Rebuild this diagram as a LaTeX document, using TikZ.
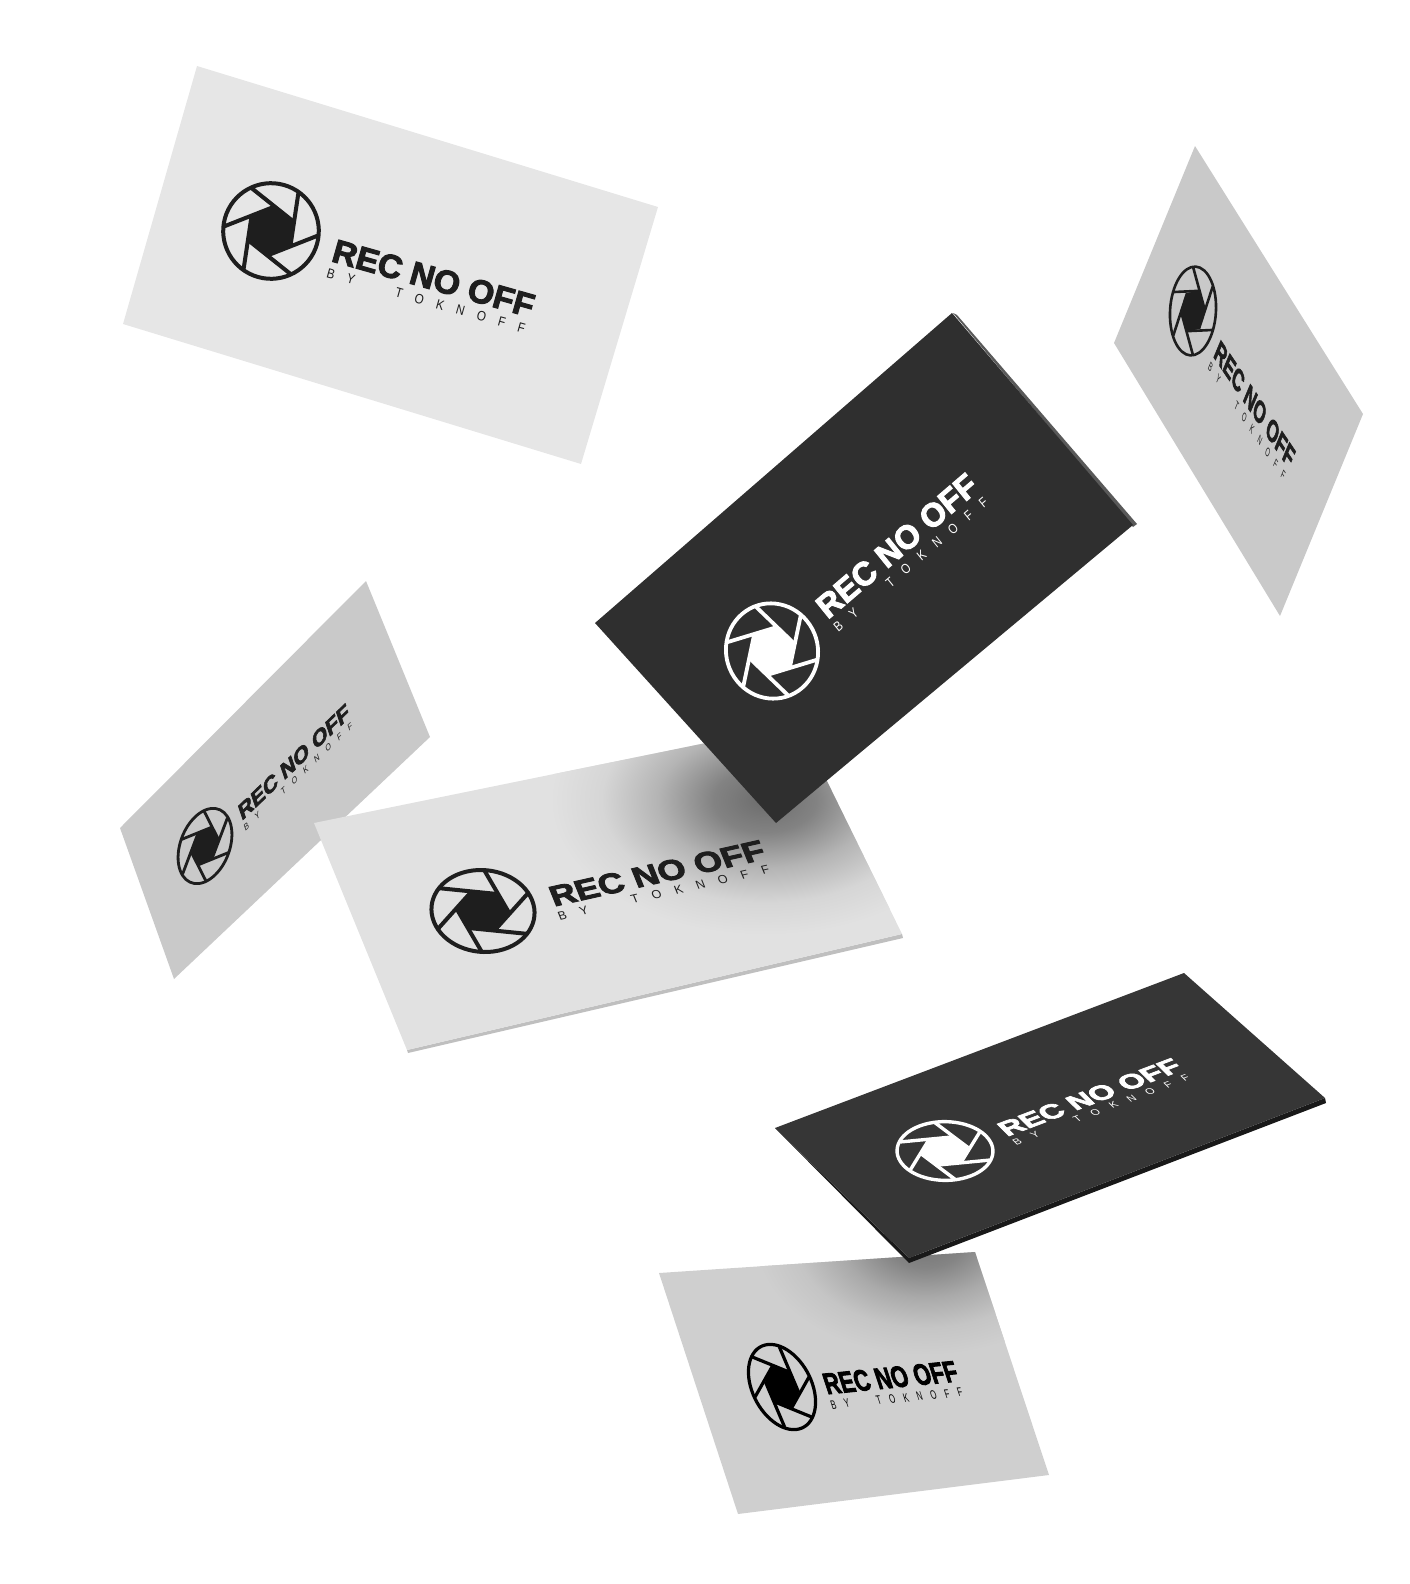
\documentclass[tikz,border=0pt]{standalone}
\usepackage{fontspec}
\usepackage{xcolor}
\newfontfamily\recfont[UprightFont=* Bold,FakeBold=3]{Liberation Sans}
\newfontfamily\byfont[LetterSpace=110]{Liberation Sans}
\definecolor{inkdark}{HTML}{1E1E1E}
\definecolor{cardpale}{HTML}{E6E6E6}
\definecolor{cardmid}{HTML}{E1E1E1}
\definecolor{cardgrey}{HTML}{C9C9C9}
\definecolor{cardlow}{HTML}{CFCFCF}
\definecolor{cardblack}{HTML}{2F2F2F}
\definecolor{cardcoal}{HTML}{363636}
\pgfdeclareradialshading{softmid}{\pgfpointorigin}{color(0bp)=(black!52!cardmid); color(6bp)=(black!42!cardmid); color(12.5bp)=(black!20!cardmid); color(19bp)=(black!5!cardmid); color(25bp)=(cardmid); color(50bp)=(cardmid)}
\pgfdeclareradialshading{softlow}{\pgfpointorigin}{color(0bp)=(black!45!cardlow); color(6bp)=(black!36!cardlow); color(12.5bp)=(black!18!cardlow); color(19bp)=(black!5!cardlow); color(25bp)=(cardlow); color(50bp)=(cardlow)}
\tikzset{
	rectext/.style={anchor=west,inner sep=0pt,transform shape},
}
% name, centre x, centre y, unit along text (x,y), unit across text (x,y), ink, line width
\newcommand{\recmark}[9]{
	\pgfmathsetmacro{\ma}{#4/56.905}
	\pgfmathsetmacro{\mb}{-#5/56.905}
	\pgfmathsetmacro{\mc}{#6/56.905}
	\pgfmathsetmacro{\md}{-#7/56.905}
	\begin{scope}[shift={(#2,#3)},cm={\ma,\mb,\mc,\md,(0,0)},x=1cm,y=1cm]
		\draw[#8,line width=#9] (0,0) circle (1);
		\fill[#8] (41:0.5) -- (101:0.5) -- (161:0.5) -- (221:0.5) -- (281:0.5) -- (341:0.5) -- cycle;
		\foreach \a in {0,60,...,300}
			\draw[#8,line width=#9] (\a+41:0.5) -- (\a+130:0.98);
		\node[rectext,text=#8] (rec#1) at (1.36,-0.03) {\resizebox{4.35cm}{0.48cm}{\recfont REC NO OFF}};
		\node[rectext,text=#8] (by#1) at (1.36,-0.52) {\resizebox{4.3cm}{0.2cm}{\byfont BY\hspace{3.6em}TOKNOFF}};
	\end{scope}
}
\begin{document}
\begin{tikzpicture}[x=0.5pt,y=-0.5pt]
	\useasboundingbox (0,0) rectangle (1409,1584);
	
	% left card, behind the pale one
	\fill[cardgrey] (366,581) -- (430,737) -- (174,979) -- (120,828) -- cycle;
	\recmark{d}{205}{846}{25}{-24}{-10}{-29}{inkdark}{1.4pt}
	
	% pale card with the shadow of the black one
	\fill[black!25] (407,1050) -- (902,934) -- (903,938) -- (408,1053) -- cycle;
	\fill[cardmid] (314,823) -- (799,724) -- (902,934) -- (407,1050) -- cycle;
	\begin{scope}
		\clip (314,823) -- (799,724) -- (902,934) -- (407,1050) -- cycle;
		\shade[shading=softmid] (765,800) ellipse (215 and 135);
	\end{scope}
	\recmark{e}{483}{911}{49}{-11}{-16}{-39.5}{inkdark}{2pt}
	
	% black card
	\fill[black!65] (953,313) -- (957,315) -- (1137,524) -- (1133,527) -- cycle;
	\fill[cardblack] (952,313) -- (1133,525) -- (776,823) -- (595,623) -- cycle;
	\recmark{c}{772}{651}{35}{-30}{-30}{-37}{white}{1.9pt}
	
	% top left card
	\fill[cardpale] (197,66) -- (658,207) -- (581,464) -- (123,324) -- cycle;
	\recmark{a}{271}{231}{46}{13}{13}{-46}{inkdark}{2pt}
	
	% right card
	\fill[cardgrey] (1195,146) -- (1363,414) -- (1280,616) -- (1114,343) -- cycle;
	\recmark{b}{1193}{311}{17.5}{26}{15}{-36}{inkdark}{1.3pt}
	
	% bottom card with the shadow of the dark one
	\fill[cardlow] (659,1273) -- (975,1252) -- (1049,1475) -- (738,1514) -- cycle;
	\begin{scope}
		\clip (659,1273) -- (975,1252) -- (1049,1475) -- (738,1514) -- cycle;
		\shade[shading=softlow] (925,1240) ellipse (170 and 115);
	\end{scope}
	\recmark{g}{782}{1387}{30.5}{-3}{-14}{-42.5}{black}{1.6pt}
	
	% dark card
	\fill[black!90] (775,1128) -- (909,1258) -- (1325,1098) -- (1326,1103) -- (909,1263) -- cycle;
	\fill[cardcoal] (1184,973) -- (1325,1098) -- (909,1258) -- (775,1128) -- cycle;
	\recmark{f}{945}{1151}{40.6}{-15.4}{-25.5}{-25}{white}{1.7pt}
\end{tikzpicture}
\end{document}
